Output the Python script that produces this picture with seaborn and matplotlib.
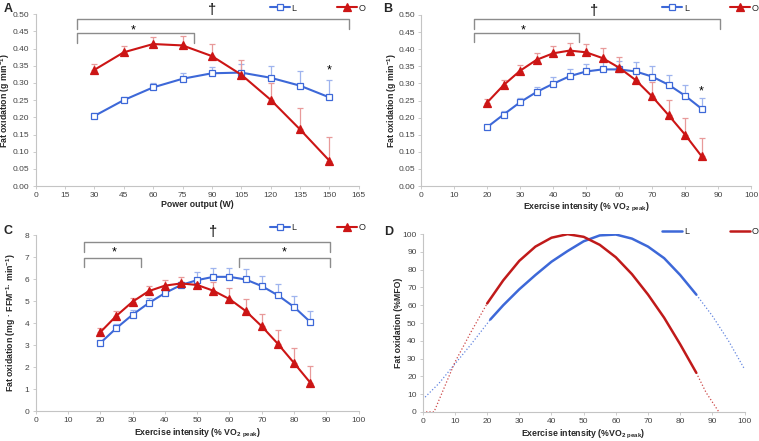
import numpy as np
import pandas as pd
import matplotlib
matplotlib.use("Agg")
import matplotlib.pyplot as plt
import seaborn as sns

# ---- data ----
# A: absolute fat oxidation vs power output
pow_w = [30, 45, 60, 75, 90, 105, 120, 135, 150]
a_lean = [0.204, 0.250, 0.287, 0.312, 0.328, 0.330, 0.315, 0.292, 0.258]
a_lean_up = [0.213, 0.260, 0.299, 0.328, 0.347, 0.355, 0.349, 0.335, 0.308]
a_obese = [0.338, 0.389, 0.413, 0.409, 0.378, 0.324, 0.251, 0.165, 0.074]
a_obese_up = [0.355, 0.407, 0.434, 0.435, 0.412, 0.368, 0.301, 0.226, 0.142]

# B: absolute fat oxidation vs %VO2peak
pct = [20, 25, 30, 35, 40, 45, 50, 55, 60, 65, 70, 75, 80, 85]
b_lean = [0.172, 0.209, 0.245, 0.275, 0.299, 0.321, 0.335, 0.341, 0.341, 0.335, 0.320, 0.296, 0.264, 0.226]
b_lean_up = [0.178, 0.219, 0.256, 0.290, 0.318, 0.341, 0.357, 0.366, 0.366, 0.364, 0.350, 0.326, 0.295, 0.256]
b_obese = [0.244, 0.295, 0.337, 0.369, 0.388, 0.396, 0.391, 0.374, 0.346, 0.310, 0.262, 0.207, 0.150, 0.087]
b_obese_up = [0.255, 0.311, 0.354, 0.388, 0.409, 0.418, 0.415, 0.403, 0.377, 0.344, 0.303, 0.253, 0.198, 0.140]

# C: fat oxidation relative to FFM
c_lean = [3.09, 3.77, 4.38, 4.91, 5.36, 5.73, 5.95, 6.10, 6.10, 5.98, 5.68, 5.26, 4.73, 4.05]
c_lean_up = [3.20, 3.94, 4.58, 5.12, 5.53, 5.88, 6.33, 6.48, 6.52, 6.44, 6.15, 5.79, 5.21, 4.55]
c_obese = [3.58, 4.33, 4.97, 5.45, 5.70, 5.80, 5.73, 5.47, 5.09, 4.55, 3.85, 3.05, 2.18, 1.29]
c_obese_up = [3.76, 4.53, 5.15, 5.67, 5.95, 6.09, 5.98, 5.88, 5.58, 5.08, 4.42, 3.70, 2.88, 2.06]

# D: %MFO curves (solid = measured range, dotted = extrapolated)
d_lean_x = [21, 25, 30, 35, 40, 45, 50, 55, 60, 65, 70, 75, 80, 85]
d_lean = [52, 60, 69, 77, 84.5, 90.5, 96, 99.3, 99.8, 97.5, 93, 86.5, 77, 66]
d_lean_ext1_x = [0, 5, 10, 15, 21]
d_lean_ext1 = [7, 16, 27, 38, 52]
d_lean_ext2_x = [85, 90, 95, 100]
d_lean_ext2 = [66, 54, 40, 24]
d_obese_x = [20, 25, 30, 35, 40, 45, 50, 55, 60, 65, 70, 75, 80, 85]
d_obese = [61, 74, 85, 93, 98, 100, 98.5, 94, 87, 77.5, 66, 53, 38, 22]
d_obese_ext1_x = [0, 3.5, 10, 15, 20]
d_obese_ext1 = [0, 0, 28, 45, 61]
d_obese_ext2_x = [85, 88, 92]
d_obese_ext2 = [22, 11, 0]

# significance brackets: (x0, x1, y_bar, y_end)
a_brackets = [(21, 160, 0.486, 0.456), (21, 81, 0.445, 0.415)]
b_brackets = [(16, 90.5, 0.487, 0.460), (16, 48, 0.447, 0.420)]
c_brackets = [(15, 91, 7.67, 7.21), (15, 32.5, 6.97, 6.56), (63, 91, 6.97, 6.56)]
# text marks: (x, y, text)
a_marks = [(90, 0.512, "†"), (50, 0.452, "*"), (150, 0.335, "*")]
b_marks = [(52.5, 0.513, "†"), (31, 0.455, "*"), (85, 0.276, "*")]
c_marks = [(55, 8.12, "†"), (24.2, 7.22, "*"), (77, 7.22, "*")]

# ---- style ----
sns.set_theme(style="white")
plt.rcParams['font.family'] = ['Liberation Sans', 'DejaVu Sans']
plt.rcParams['mathtext.default'] = 'regular'

blue = "#3d68d8"
red = "#cc1515"
blue_err = "#9fb4ee"
red_err = "#e89a9a"
grey = "#8c8c8c"
spine = "#c4c4c4"

fig = plt.figure(figsize=(7.59, 4.41), dpi=100)
axA = fig.add_axes([0.047, 0.578, 0.4256, 0.390])
axB = fig.add_axes([0.5547, 0.578, 0.435, 0.388])
axC = fig.add_axes([0.047, 0.068, 0.4256, 0.399])
axD = fig.add_axes([0.557, 0.066, 0.424, 0.403])


def style_axis(ax, xlim, xticks, ylim, yticks, yfmt):
    ax.set_xlim(*xlim)
    ax.set_ylim(*ylim)
    ax.set_xticks(xticks)
    ax.set_yticks(yticks)
    ax.set_yticklabels([yfmt.format(v) for v in yticks])
    for s in ["top", "right"]:
        ax.spines[s].set_visible(False)
    for s in ["left", "bottom"]:
        ax.spines[s].set_color(spine)
        ax.spines[s].set_linewidth(0.8)
    ax.tick_params(axis="both", labelsize=6, colors="#444444", length=2.5,
                   width=0.6, pad=2, left=True, bottom=True)
    ax.tick_params(axis="both", color=spine)
    ax.grid(False)


def draw_group(ax, x, mean, up, col, ecol, marker, mfc, label):
    ax.errorbar(x, mean, yerr=[np.zeros(len(x)), np.array(up) - np.array(mean)],
                fmt="none", ecolor=ecol, elinewidth=0.9, capsize=2.2,
                capthick=0.9, zorder=1)
    sns.lineplot(x=x, y=mean, ax=ax, color=col, lw=1.5, marker=marker,
                 markersize=4.8 if marker == "s" else 5.2,
                 markerfacecolor=mfc, markeredgecolor=col, markeredgewidth=0.9,
                 label=label, zorder=3)


def brackets(ax, bl):
    for x0, x1, yb, ye in bl:
        ax.plot([x0, x0, x1, x1], [ye, yb, yb, ye], color=grey, lw=1,
                clip_on=False, zorder=2)


def marks(ax, ml):
    for x, y, t in ml:
        ax.text(x, y, t, ha="center", va="center",
                fontsize=10.5 if t == "†" else 9, color="black", clip_on=False)


def legend(ax, anchor):
    ax.legend(loc="upper right", bbox_to_anchor=anchor,
              bbox_transform=fig.transFigure, ncol=2, frameon=False,
              fontsize=6.5, handlelength=2.2, handletextpad=0.2,
              columnspacing=4.5, borderaxespad=0, borderpad=0)


# panel A
draw_group(axA, pow_w, a_lean, a_lean_up, blue, blue_err, "s", "white", "L")
draw_group(axA, pow_w, a_obese, a_obese_up, red, red_err, "^", red, "O")
style_axis(axA, (0, 165), range(0, 166, 15), (0, 0.5),
           np.round(np.arange(0, 0.51, 0.05), 2), "{:.2f}")
brackets(axA, a_brackets)
marks(axA, a_marks)
legend(axA, (0.482, 0.992))
axA.set_xlabel("Power output (W)", fontsize=6.3, fontweight="bold")
axA.set_ylabel("Fat oxidation (g min$^{-1}$)", fontsize=6.3, fontweight="bold")
axA.xaxis.set_label_coords(0.5, -0.079)
axA.yaxis.set_label_coords(-0.072, 0.5)

# panel B
draw_group(axB, pct, b_lean, b_lean_up, blue, blue_err, "s", "white", "L")
draw_group(axB, pct, b_obese, b_obese_up, red, red_err, "^", red, "O")
style_axis(axB, (0, 100), range(0, 101, 10), (0, 0.5),
           np.round(np.arange(0, 0.51, 0.05), 2), "{:.2f}")
brackets(axB, b_brackets)
marks(axB, b_marks)
legend(axB, (0.999, 0.992))
axB.set_xlabel("Exercise intensity (% VO$_{2\\ peak}$)", fontsize=6.3, fontweight="bold")
axB.set_ylabel("Fat oxidation (g min$^{-1}$)", fontsize=6.3, fontweight="bold")
axB.xaxis.set_label_coords(0.5, -0.088)
axB.yaxis.set_label_coords(-0.068, 0.5)

# panel C
draw_group(axC, pct, c_lean, c_lean_up, blue, blue_err, "s", "white", "L")
draw_group(axC, pct, c_obese, c_obese_up, red, red_err, "^", red, "O")
style_axis(axC, (0, 100), range(0, 101, 10), (0, 8), range(0, 9), "{:d}")
brackets(axC, c_brackets)
marks(axC, c_marks)
legend(axC, (0.482, 0.494))
axC.set_xlabel("Exercise intensity (% VO$_{2\\ peak}$)", fontsize=6.3, fontweight="bold")
axC.set_ylabel("Fat oxidation (mg · FFM$^{-1}$· min$^{-1}$)", fontsize=6.3, fontweight="bold")
axC.xaxis.set_label_coords(0.5, -0.09)
axC.yaxis.set_label_coords(-0.055, 0.5)

# panel D
sns.lineplot(x=d_lean_x, y=d_lean, ax=axD, color=blue, lw=1.8, label="L")
sns.lineplot(x=d_obese_x, y=d_obese, ax=axD, color="#c01a1a", lw=1.8, label="O")
for xs, ys, col in [(d_lean_ext1_x, d_lean_ext1, blue), (d_lean_ext2_x, d_lean_ext2, blue),
                    (d_obese_ext1_x, d_obese_ext1, "#c01a1a"),
                    (d_obese_ext2_x, d_obese_ext2, "#c01a1a")]:
    sns.lineplot(x=xs, y=ys, ax=axD, color=col, lw=0.9, linestyle=":", alpha=0.8)
style_axis(axD, (0, 100), range(0, 101, 10), (0, 100), range(0, 101, 10), "{:d}")
legend(axD, (0.999, 0.486))
axD.set_xlabel("Exercise intensity (%VO$_{2\\ peak}$)", fontsize=6.3, fontweight="bold")
axD.set_ylabel("Fat oxidation (%MFO)", fontsize=6.3, fontweight="bold")
axD.xaxis.set_label_coords(0.5, -0.09)
axD.yaxis.set_label_coords(-0.062, 0.5)

# panel letters
for x, y, t in [(0.005, 0.993, "A"), (0.505, 0.993, "B"), (0.004, 0.49, "C"), (0.506, 0.488, "D")]:
    fig.text(x, y, t, fontsize=9, fontweight="bold", va="top", ha="left")

fig.savefig("out.png", dpi=100)
